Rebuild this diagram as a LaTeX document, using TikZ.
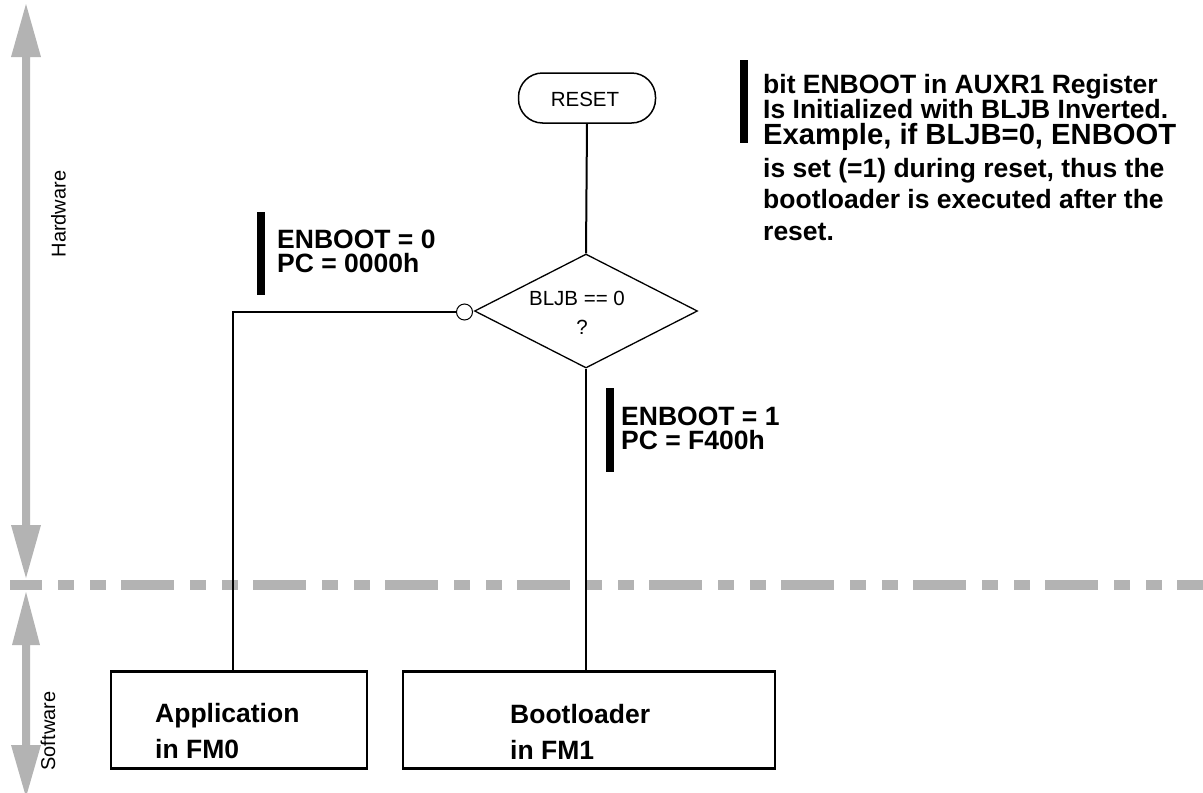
\documentclass[tikz,border=0pt]{standalone}
\usepackage{fontspec}
\setmainfont{Liberation Sans}
\usetikzlibrary{shapes.geometric}
\definecolor{lanegray}{RGB}{179,179,179}
\begin{document}
\begin{tikzpicture}[x=1pt,y=-1pt,
  bold/.style={font=\fontsize{26.5}{26.5}\selectfont\bfseries, anchor=base west, inner sep=0pt},
  bigbold/.style={font=\fontsize{29.2}{29.2}\selectfont\bfseries, anchor=base west, inner sep=0pt},
  small/.style={font=\fontsize{20.5}{20.5}\selectfont, inner sep=0pt},
  side/.style={font=\fontsize{20}{20}\selectfont, rotate=90, inner sep=0pt},
  conn/.style={line width=2pt},
  box/.style={draw, line width=2.5pt, inner sep=0pt},
  bar/.style={fill=black, draw=none},
  lane/.style={fill=lanegray, draw=none}]
\useasboundingbox (0,0) rectangle (1203,793);
% lane arrows
\fill[lane] (26,4) -- (41,57) -- (30,57) -- (30,525) -- (41,525) -- (26,578) -- (11,525) -- (22,525) -- (22,57) -- (11,57) -- cycle;
\fill[lane] (26,592) -- (40,645) -- (30,645) -- (30,745) -- (41,745) -- (26,797) -- (11,745) -- (22,745) -- (22,645) -- (12,645) -- cycle;
\draw[lanegray, line width=10pt, dash pattern=on 53pt off 16pt on 16pt off 16pt on 16pt off 15pt, dash phase=21pt] (10,585) -- (1203,585);
\node[side] (hw) at (58.5,214) {Hardware};
\node[side] (sw) at (48,731) {Software};
% flow
\node[draw, line width=1.5pt, rounded corners=24pt, minimum width=137pt, minimum height=50pt, inner sep=0pt] (reset) at (587,98) {};
\node[small, anchor=base] (resettxt) at (585,106) {RESET};
\node[draw, diamond, line width=1.3pt, minimum width=223pt, minimum height=114pt, inner sep=0pt] (dia) at (586,311) {};
\node[small, anchor=base] (q1) at (577,305) {BLJB == 0};
\node[small, anchor=base] (q2) at (582,334) {?};
\node[circle, draw, fill=white, line width=1pt, minimum size=16pt, inner sep=0pt] (c) at (464.5,312) {};
\node[box, minimum width=256pt, minimum height=97pt] (app) at (239,720) {};
\node[box, minimum width=372pt, minimum height=97pt] (boot) at (589,720) {};
\coordinate (appin) at (233,671.5);
\draw[conn] (reset.south) -- (dia.north);
\draw[conn] (c.west) -| (appin);
\draw[conn] (dia.south) -- (dia.south |- boot.north);
% box texts
\node[bold] (a1) at (155,722) {Application};
\node[bold] (a2) at (155,758) {in FM0};
\node[bold] (b1) at (510,723) {Bootloader};
\node[bold] (b2) at (510,759) {in FM1};
% side labels
\fill[bar] (257,212) rectangle (265,295);
\node[bold] (l01) at (277,248) {ENBOOT = 0};
\node[bold] (l02) at (277,272) {PC = 0000h};
\fill[bar] (606,388) rectangle (614,472);
\node[bold] (l11) at (621,425) {ENBOOT = 1};
\node[bold] (l12) at (621,449) {PC = F400h};
\fill[bar] (740,60) rectangle (748,143);
\node[bold] (t1) at (763,93) {bit ENBOOT in AUXR1 Register};
\node[bold] (t2) at (763,118) {Is Initialized with BLJB Inverted.};
\node[bigbold] (t3) at (763,144) {Example, if BLJB=0, ENBOOT};
\node[bold] (t4) at (763,177) {is set (=1) during reset, thus the};
\node[bold] (t5) at (763,208) {bootloader is executed after the};
\node[bold] (t6) at (763,240) {reset.};
\end{tikzpicture}
\end{document}
